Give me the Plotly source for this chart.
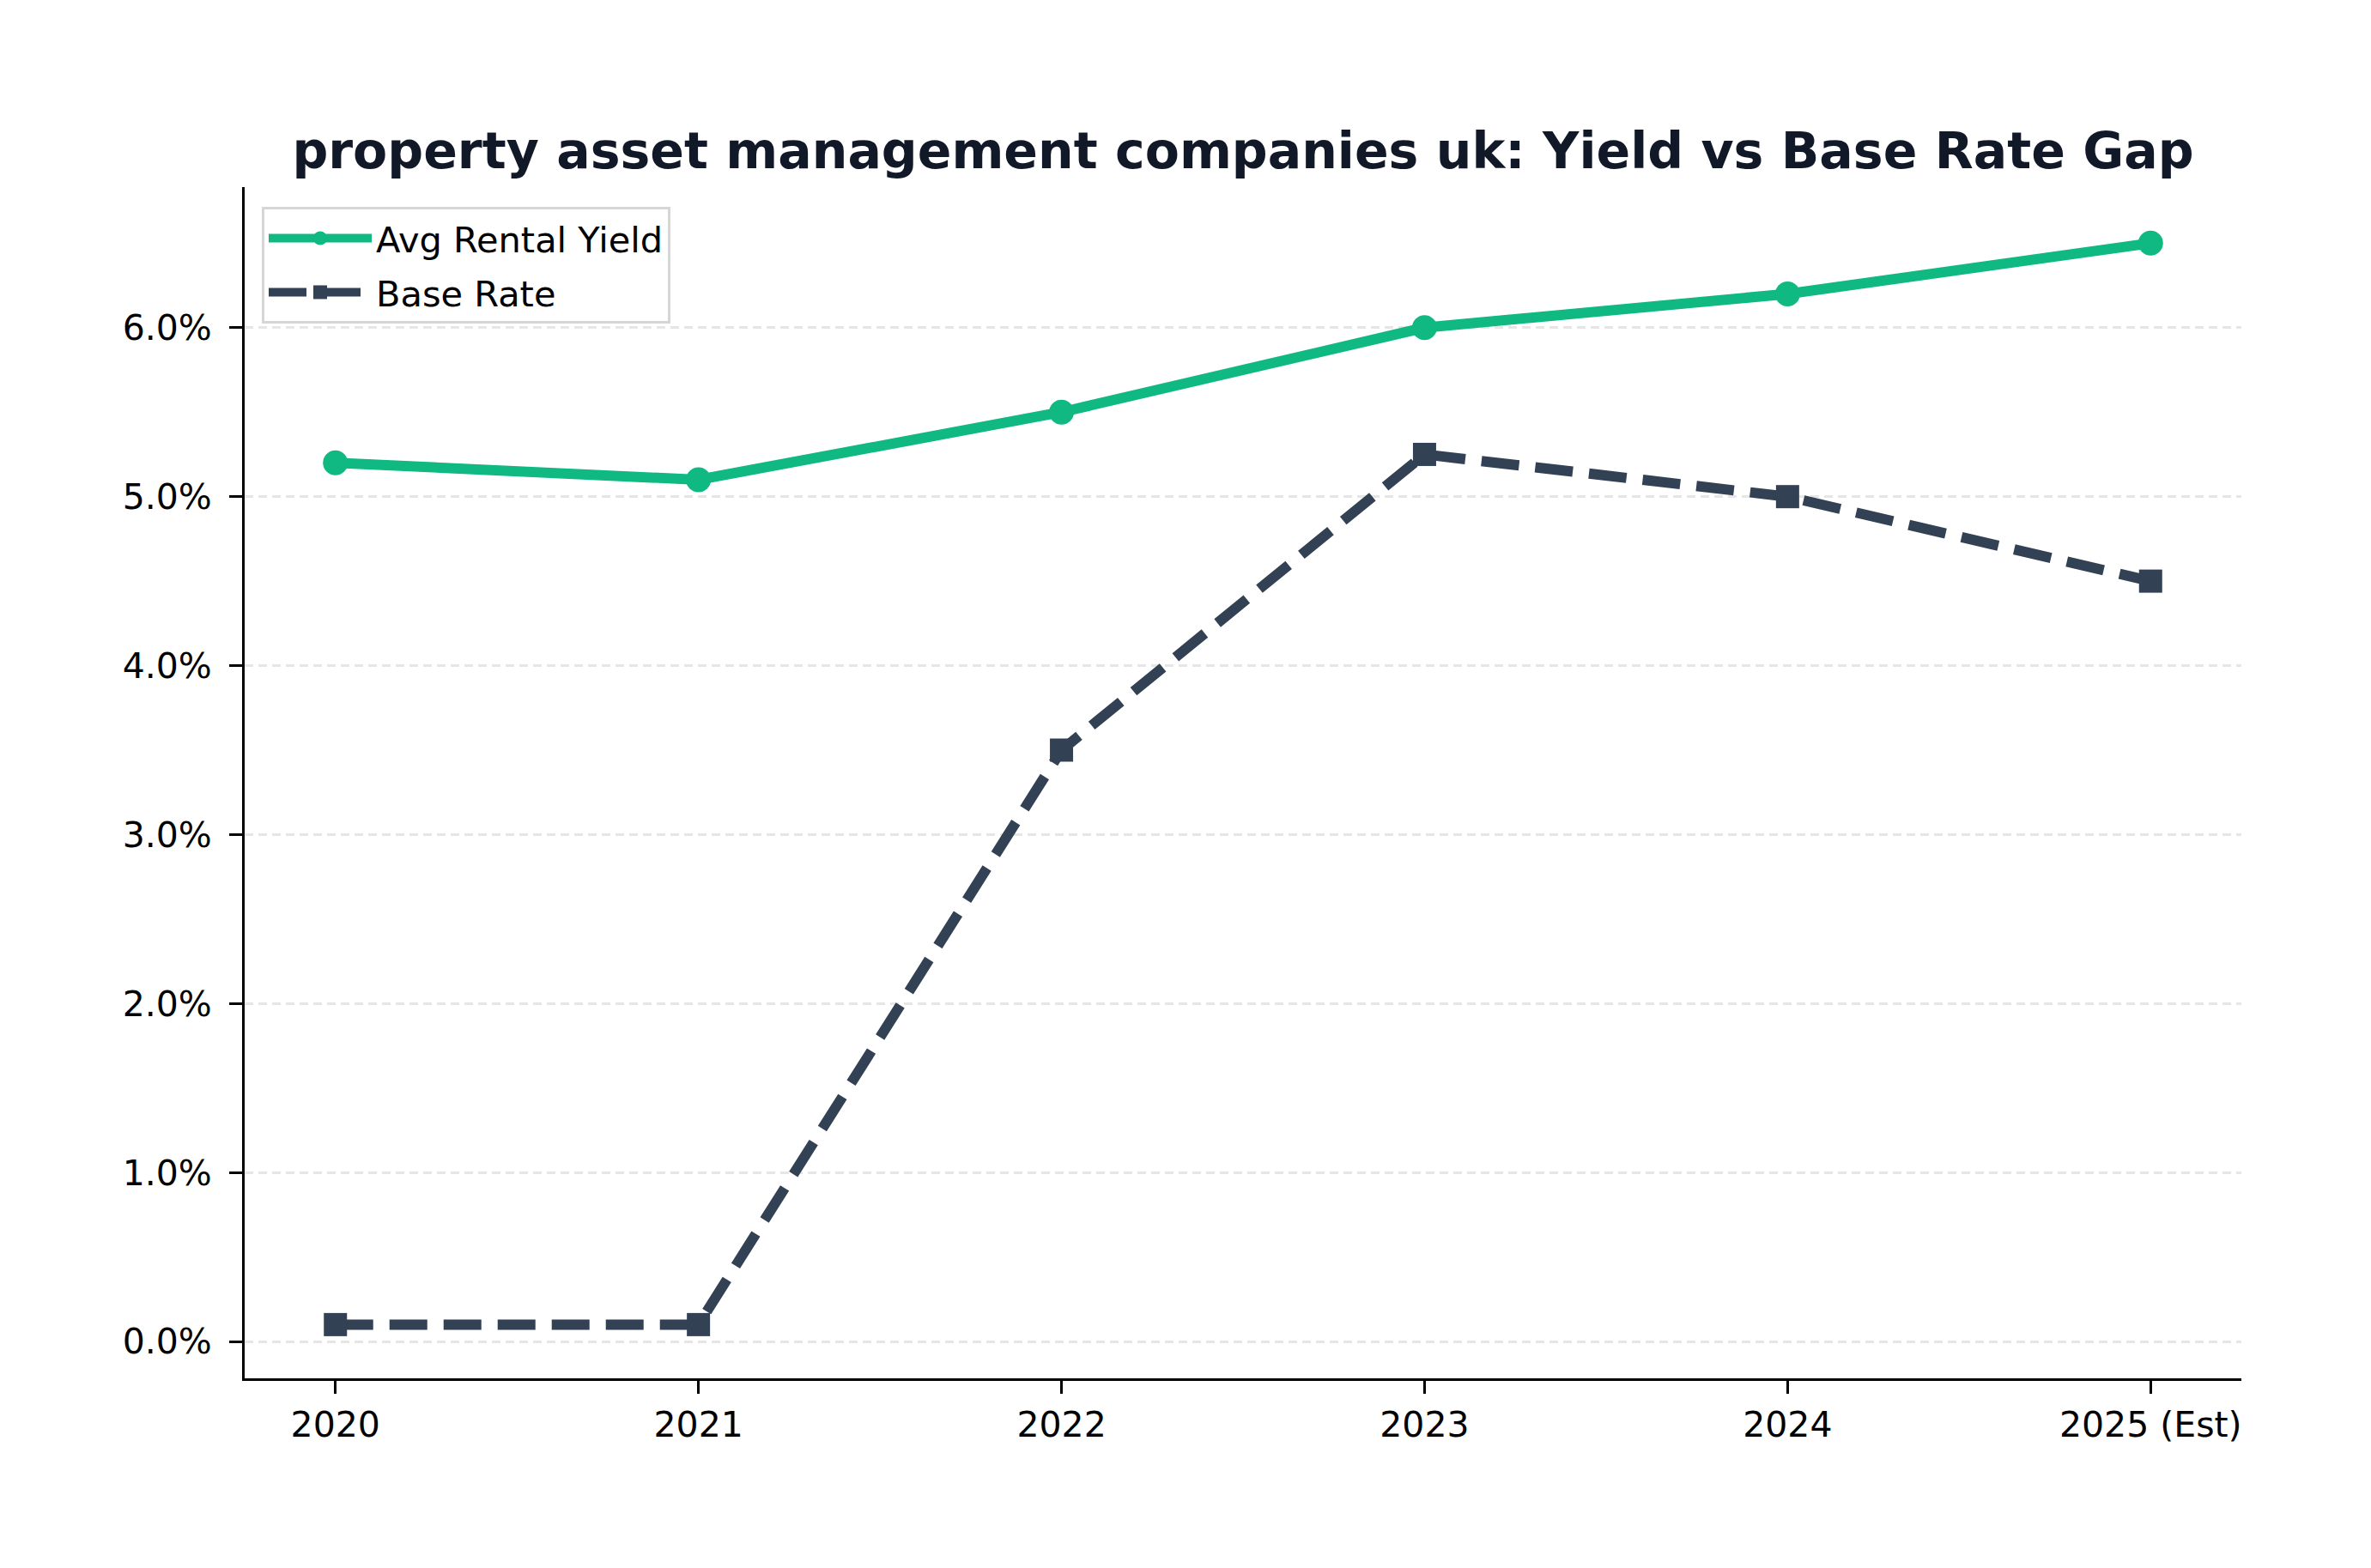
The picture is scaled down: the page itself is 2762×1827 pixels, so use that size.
import plotly.graph_objects as go

years = ["2020", "2021", "2022", "2023", "2024", "2025 (Est)"]
avg_rental_yield = [5.2, 5.1, 5.5, 6.0, 6.2, 6.5]
base_rate = [0.1, 0.1, 3.5, 5.25, 5.0, 4.5]
y_tick_vals = [0, 1, 2, 3, 4, 5, 6]
y_tick_text = ["0.0%", "1.0%", "2.0%", "3.0%", "4.0%", "5.0%", "6.0%"]

W, H = 2762, 1827
ML, MR, MT, MB = 285, 151, 218, 221
FONT = "DejaVu Sans"

x_idx = list(range(len(years)))

fig = go.Figure()
fig.add_trace(go.Scatter(
    x=x_idx, y=avg_rental_yield, name="Avg Rental Yield",
    mode="lines+markers", legendgroup="a",
    line=dict(color="#10B981", width=12),
    marker=dict(symbol="circle", size=29, color="#10B981"),
))
fig.add_trace(go.Scatter(
    x=x_idx, y=base_rate, name="Base Rate",
    mode="lines+markers", legendgroup="b",
    line=dict(color="#334155", width=12, dash="44px,19px"),
    marker=dict(symbol="square", size=27, color="#334155"),
))

fig.update_layout(
    width=W, height=H,
    margin=dict(l=ML, r=MR, t=MT, b=MB, autoexpand=False),
    paper_bgcolor="white", plot_bgcolor="white",
    font=dict(family=FONT, size=41, color="black"),
    title=dict(
        text="<b>property asset management companies uk: Yield vs Base Rate Gap</b>",
        x=(ML + (W - MR)) / 2 / W, xanchor="center",
        y=1 - 176 / H, yanchor="middle",
        font=dict(family=FONT, size=58.5, color="#111827"),
    ),
    showlegend=True,
    legend=dict(
        x=0.0086, xanchor="left", y=0.9834, yanchor="top",
        bgcolor="white", bordercolor="#d6d6d6", borderwidth=3,
        font=dict(family=FONT, size=41.5, color="black"),
        itemwidth=120, tracegroupgap=6,
    ),
    xaxis=dict(
        range=[-0.25, 5.25],
        tickmode="array", tickvals=x_idx, ticktext=years,
        showgrid=False, zeroline=False,
        showline=True, linecolor="black", linewidth=3,
        ticks="outside", ticklen=15, tickwidth=3, tickcolor="black",
        ticklabelstandoff=1,
        tickfont=dict(family=FONT, size=41, color="black"),
    ),
    yaxis=dict(
        range=[-0.218, 6.832],
        tickmode="array", tickvals=y_tick_vals, ticktext=y_tick_text,
        showgrid=True, gridcolor="#e6e6e6", gridwidth=2.5, griddash="10px,6px",
        zeroline=False,
        showline=True, linecolor="black", linewidth=3,
        ticks="outside", ticklen=15, tickwidth=3, tickcolor="black",
        ticklabelstandoff=12,
        tickfont=dict(family=FONT, size=41, color="black"),
    ),
)

fig.write_html("out.html")
